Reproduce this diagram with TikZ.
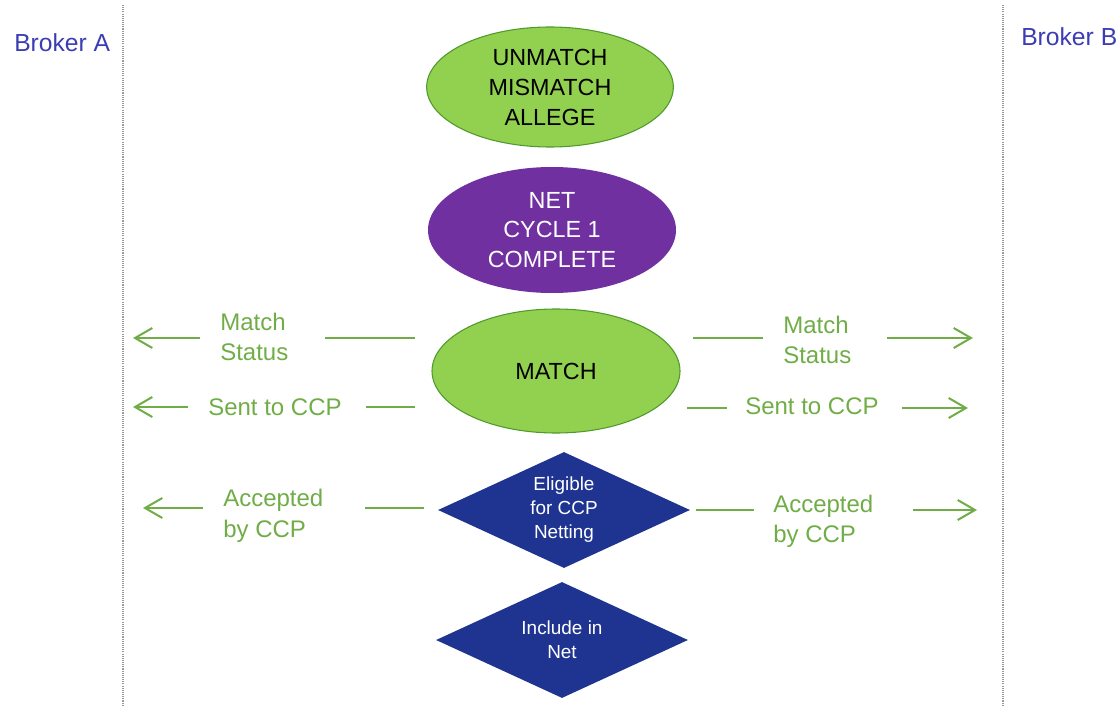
\documentclass[tikz,border=0pt]{standalone}
\usepackage{fontspec}
\setmainfont{Liberation Sans}
\usetikzlibrary{shapes.geometric,arrows.meta}
\definecolor{gfill}{HTML}{92D050}
\definecolor{gedge}{HTML}{4E9A2A}
\definecolor{purp}{HTML}{7030A0}
\definecolor{navy}{HTML}{1F3491}
\definecolor{brk}{HTML}{3C3CB4}
\definecolor{glab}{HTML}{70AD47}
\begin{document}
\begin{tikzpicture}[x=0.75pt,y=-0.75pt,
  sep/.style={draw=gray!80,line width=1.2pt,dash pattern=on 0.8pt off 0.8pt},
  broker/.style={anchor=west,text=brk,font=\fontsize{18.5}{22}\selectfont,inner sep=0pt},
  gell/.style={ellipse,draw=gedge,line width=0.8pt,fill=gfill,inner sep=0pt,align=center,
    font=\fontsize{17.5}{22.5}\selectfont,text=black},
  pell/.style={ellipse,fill=purp,inner sep=0pt,align=center,
    font=\fontsize{17.5}{22.3}\selectfont,text=white},
  dia/.style={diamond,aspect=2.17,fill=navy,inner sep=0pt,align=center,
    minimum width=189pt,minimum height=87pt,
    font=\fontsize{14.2}{18}\selectfont,text=white},
  glabel/.style={anchor=west,align=left,text=glab,inner sep=0pt},
  gline/.style={draw=glab,line width=1.5pt},
  garrow/.style={draw=glab,line width=1.5pt,-{Straight Barb[length=13pt,width=15pt,line width=1.5pt]}}
]
\useasboundingbox (0,0) rectangle (1120,706);
% separators
\coordinate (sepAt) at (123,5);
\coordinate (sepAb) at (123,706);
\coordinate (sepBt) at (1003,5);
\coordinate (sepBb) at (1003,706);
\draw[sep] (sepAt) -- (sepAb);
\draw[sep] (sepBt) -- (sepBb);
% brokers
\node[broker] (brokerA) at (14,43) {Broker A};
\node[broker] (brokerB) at (1021,37) {Broker B};
% central shapes
\node[gell,minimum width=185pt,minimum height=90pt] (unmatch) at (550,87) {UNMATCH\\MISMATCH\\ALLEGE};
\node[pell,minimum width=186pt,minimum height=94.5pt] (net) at (552,230) {NET\\CYCLE 1\\COMPLETE};
\node[gell,minimum width=186pt,minimum height=93pt] (match) at (556,371) {MATCH};
\node[dia] (elig) at (564,510) {Eligible\\for CCP\\Netting};
\node[dia] (incl) at (562,640) {Include in\\Net};
% labels left
\node[glabel,font=\fontsize{18}{22}\selectfont] (msL) at (220,337) {Match\\Status};
\node[glabel,font=\fontsize{18}{22}\selectfont] (scL) at (208,407) {Sent to CCP};
\node[glabel,font=\fontsize{18}{23.2}\selectfont] (acL) at (223,516) {Accepted\\by CCP};
% labels right
\node[glabel,font=\fontsize{18}{22.5}\selectfont] (msR) at (783,340) {Match\\Status};
\node[glabel,font=\fontsize{18}{22}\selectfont] (scR) at (745,406) {Sent to CCP};
\node[glabel,font=\fontsize{18}{22.5}\selectfont] (acR) at (773,521) {Accepted\\by CCP};
% connector coordinates left
\coordinate (msLa) at (415,338); \coordinate (msLb) at (325,338);
\coordinate (msLc) at (200,338); \coordinate (msLd) at (133,338);
\coordinate (scLa) at (415,407); \coordinate (scLb) at (366,407);
\coordinate (scLc) at (188,407); \coordinate (scLd) at (133,407);
\coordinate (acLa) at (424,508); \coordinate (acLb) at (365,508);
\coordinate (acLc) at (203,508); \coordinate (acLd) at (143,508);
% connector coordinates right
\coordinate (msRa) at (693,338); \coordinate (msRb) at (763,338);
\coordinate (msRc) at (887,338); \coordinate (msRd) at (973,338);
\coordinate (scRa) at (687,408); \coordinate (scRb) at (727,408);
\coordinate (scRc) at (902,408); \coordinate (scRd) at (968,408);
\coordinate (acRa) at (696,510); \coordinate (acRb) at (754,510);
\coordinate (acRc) at (913,510); \coordinate (acRd) at (977,510);
% connectors
\draw[gline] (msLa) -- (msLb);
\draw[garrow] (msLc) -- (msLd);
\draw[gline] (scLa) -- (scLb);
\draw[garrow] (scLc) -- (scLd);
\draw[gline] (acLa) -- (acLb);
\draw[garrow] (acLc) -- (acLd);
\draw[gline] (msRa) -- (msRb);
\draw[garrow] (msRc) -- (msRd);
\draw[gline] (scRa) -- (scRb);
\draw[garrow] (scRc) -- (scRd);
\draw[gline] (acRa) -- (acRb);
\draw[garrow] (acRc) -- (acRd);
\end{tikzpicture}
\end{document}
